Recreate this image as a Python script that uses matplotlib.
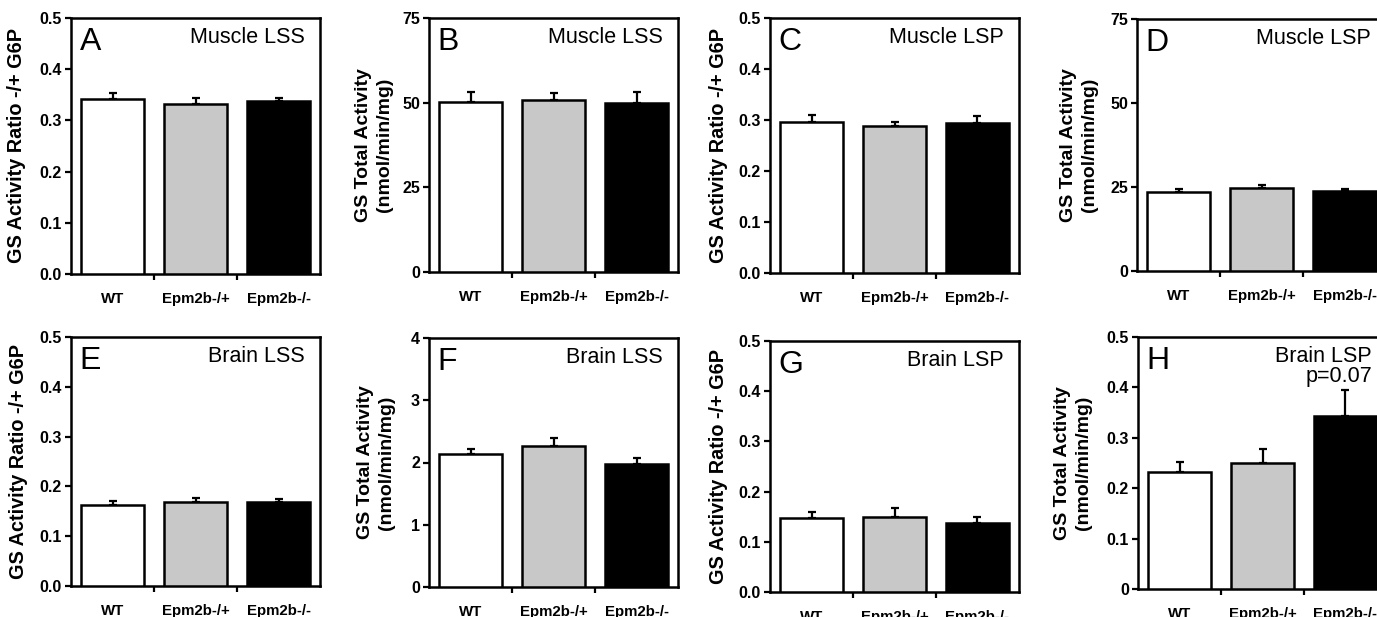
import matplotlib.pyplot as plt
from matplotlib.ticker import FixedLocator

plt.rcParams['font.family'] = ['Liberation Sans', 'DejaVu Sans']

groups = ['WT', 'Epm2b-/+', 'Epm2b-/-']
colors = ['white', '#c8c8c8', 'black']

letters = ['A', 'B', 'C', 'D', 'E', 'F', 'G', 'H']
titles = ['Muscle LSS', 'Muscle LSS', 'Muscle LSP', 'Muscle LSP',
          'Brain LSS', 'Brain LSS', 'Brain LSP', 'Brain LSP\np=0.07']

ratio_label = 'GS Activity Ratio -/+ G6P'
total_label = 'GS Total Activity\n(nmol/min/mg)'
ylabels = [ratio_label, total_label] * 4

# bar heights and upper error (SEM)
means_A = [0.341, 0.333, 0.337]
err_A = [0.013, 0.011, 0.006]
means_B = [50.3, 50.8, 49.8]
err_B = [2.8, 2.0, 3.3]
means_C = [0.297, 0.289, 0.294]
err_C = [0.013, 0.008, 0.013]
means_D = [23.4, 24.8, 23.7]
err_D = [1.0, 0.7, 0.7]
means_E = [0.162, 0.168, 0.168]
err_E = [0.009, 0.009, 0.007]
means_F = [2.14, 2.27, 1.97]
err_F = [0.07, 0.12, 0.11]
means_G = [0.147, 0.149, 0.137]
err_G = [0.012, 0.019, 0.013]
means_H = [0.233, 0.250, 0.343]
err_H = [0.018, 0.028, 0.052]

ratio_ticks = [0.0, 0.1, 0.2, 0.3, 0.4, 0.5]
ratio_ticklabels = ['0.0', '0.1', '0.2', '0.3', '0.4', '0.5']
muscle_ticks = [0, 25, 50, 75]
muscle_ticklabels = ['0', '25', '50', '75']
brain_lss_ticks = [0, 1, 2, 3, 4]
brain_lss_ticklabels = ['0', '1', '2', '3', '4']
brain_lsp_ticklabels = ['0', '0.1', '0.2', '0.3', '0.4', '0.5']

means = [means_A, means_B, means_C, means_D, means_E, means_F, means_G, means_H]
errs = [err_A, err_B, err_C, err_D, err_E, err_F, err_G, err_H]
yticks = [ratio_ticks, muscle_ticks, ratio_ticks, muscle_ticks,
          ratio_ticks, brain_lss_ticks, ratio_ticks, ratio_ticks]
yticklabels = [ratio_ticklabels, muscle_ticklabels, ratio_ticklabels, muscle_ticklabels,
               ratio_ticklabels, brain_lss_ticklabels, ratio_ticklabels, brain_lsp_ticklabels]

W, H = 1377, 617
# axes boxes in pixels: left, top, right, bottom
boxes = [(71, 18, 320, 274), (429, 18, 678, 272), (770, 18, 1019, 273), (1137, 19, 1386, 271),
         (71, 337, 320, 586), (429, 338, 678, 587), (770, 341, 1019, 592), (1138, 337, 1387, 589)]
# x of the y label's right edge, in axes fraction
label_x = [-0.18, -0.145, -0.169, -0.157, -0.173, -0.137, -0.169, -0.185]

fig = plt.figure(figsize=(W / 100, H / 100), dpi=100)

for i in range(8):
    l, t, r, b = boxes[i]
    ax = fig.add_axes([l / W, 1 - b / H, (r - l) / W, (b - t) / H])
    x = range(3)
    ax.bar(x, means[i], width=0.77, color=colors, edgecolor='black', linewidth=1.8, zorder=3)
    ax.errorbar(x, means[i], yerr=[[0, 0, 0], errs[i]], fmt='none', ecolor='black',
                elinewidth=1.6, capsize=3.2, capthick=1.6, zorder=2)
    ax.set_xlim(-0.5, 2.5)
    ax.set_ylim(yticks[i][0], yticks[i][-1])
    ax.set_yticks(yticks[i])
    ax.set_yticklabels(yticklabels[i], fontsize=11.5, fontweight='bold')
    ax.set_xticks([0, 1, 2])
    ax.set_xticklabels(groups, fontsize=10.8, fontweight='bold')
    ax.xaxis.set_minor_locator(FixedLocator([0.5, 1.5]))
    ax.tick_params(axis='x', which='major', length=0, pad=13)
    ax.tick_params(axis='x', which='minor', length=4, width=1.6, direction='out')
    ax.tick_params(axis='y', length=4, width=1.6, direction='out', pad=2.5)
    for s in ax.spines.values():
        s.set_linewidth(1.8)
    if ylabels[i] == ratio_label:
        ax.set_ylabel(ylabels[i], fontsize=14.3, fontweight='bold')
    else:
        ax.set_ylabel(ylabels[i], fontsize=14, fontweight='bold', linespacing=1.3)
    ax.yaxis.set_label_coords(label_x[i], 0.5)
    ax.text(0.035, 0.965, letters[i], transform=ax.transAxes, fontsize=23,
            ha='left', va='top')
    ax.text(0.94, 0.965, titles[i], transform=ax.transAxes, fontsize=15.5,
            ha='right', va='top', linespacing=0.95)

fig.savefig('out.png', dpi=100)
